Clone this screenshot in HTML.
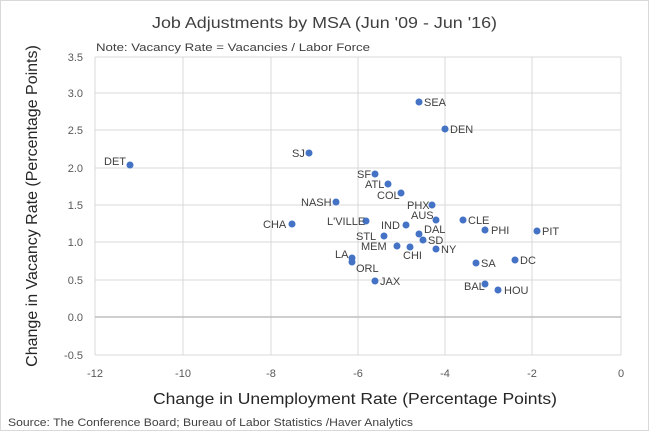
<!DOCTYPE html><html><head><style>body{margin:0;background:#fff}svg{font-family:"Liberation Sans",sans-serif}</style></head><body>
<svg width="649" height="431" viewBox="0 0 649 431">
<rect x="0.5" y="0.5" width="648" height="430" fill="#fff" stroke="#d9d9d9"/>
<g stroke="#d9d9d9" stroke-width="1">
<line x1="95" y1="57" x2="621" y2="57"/><line x1="95" y1="93" x2="621" y2="93"/><line x1="95" y1="130" x2="621" y2="130"/><line x1="95" y1="168" x2="621" y2="168"/><line x1="95" y1="205" x2="621" y2="205"/><line x1="95" y1="242" x2="621" y2="242"/><line x1="95" y1="280" x2="621" y2="280"/><line x1="95" y1="355" x2="621" y2="355"/>
<line x1="95" y1="57" x2="95" y2="355"/><line x1="183" y1="57" x2="183" y2="355"/><line x1="271" y1="57" x2="271" y2="355"/><line x1="358" y1="57" x2="358" y2="355"/><line x1="445" y1="57" x2="445" y2="355"/><line x1="532" y1="57" x2="532" y2="355"/><line x1="621" y1="57" x2="621" y2="355"/>
</g>
<line x1="95" y1="317" x2="621" y2="317" stroke="#bfbfbf" stroke-width="1.5"/>
<text x="152" y="28" font-size="16" textLength="345" lengthAdjust="spacingAndGlyphs" fill="#404040">Job Adjustments by MSA (Jun '09 - Jun '16)</text>
<text x="96" y="51" font-size="11" textLength="274" lengthAdjust="spacingAndGlyphs" fill="#404040">Note:  Vacancy Rate = Vacancies / Labor Force</text>
<g font-size="11" fill="#595959" text-anchor="end">
<text x="83" y="61">3.5</text><text x="83" y="97">3.0</text><text x="83" y="134">2.5</text><text x="83" y="172">2.0</text><text x="83" y="209">1.5</text><text x="83" y="246">1.0</text><text x="83" y="284">0.5</text><text x="83" y="321">0.0</text><text x="83" y="359">-0.5</text>
</g>
<g font-size="11" fill="#595959" text-anchor="middle">
<text x="95" y="377">-12</text><text x="183" y="377">-10</text><text x="271" y="377">-8</text><text x="358" y="377">-6</text><text x="445" y="377">-4</text><text x="532" y="377">-2</text><text x="621" y="377">0</text>
</g>
<text x="153" y="404" font-size="16" textLength="404" lengthAdjust="spacingAndGlyphs" fill="#262626">Change in Unemployment Rate (Percentage Points)</text>
<text transform="translate(37,206) rotate(-90)" font-size="16" text-anchor="middle" fill="#262626">Change in Vacancy Rate (Percentage Points)</text>
<text x="8" y="426" font-size="11" textLength="405" lengthAdjust="spacingAndGlyphs" fill="#404040">Source: The Conference Board; Bureau of Labor Statistics /Haver Analytics</text>
<g fill="#4472c4">
<circle cx="130" cy="165" r="3.5"/><circle cx="309" cy="153" r="3.5"/><circle cx="375" cy="174" r="3.5"/><circle cx="336" cy="202" r="3.5"/><circle cx="292" cy="224" r="3.5"/><circle cx="366" cy="221" r="3.5"/><circle cx="384" cy="236" r="3.5"/><circle cx="388" cy="184" r="3.5"/><circle cx="401" cy="193" r="3.5"/><circle cx="419" cy="102" r="3.5"/><circle cx="445" cy="129" r="3.5"/><circle cx="432" cy="205" r="3.5"/><circle cx="436" cy="220" r="3.5"/><circle cx="463" cy="220" r="3.5"/><circle cx="485" cy="230" r="3.5"/><circle cx="537" cy="231" r="3.5"/><circle cx="406" cy="225" r="3.5"/><circle cx="419" cy="234" r="3.5"/><circle cx="423" cy="240" r="3.5"/><circle cx="397" cy="246" r="3.5"/><circle cx="410" cy="247" r="3.5"/><circle cx="436" cy="249" r="3.5"/><circle cx="352" cy="258" r="3.5"/><circle cx="352" cy="262" r="3.5"/><circle cx="375" cy="281" r="3.5"/><circle cx="476" cy="263" r="3.5"/><circle cx="515" cy="260" r="3.5"/><circle cx="485" cy="284" r="3.5"/><circle cx="498" cy="290" r="3.5"/>
</g>
<g font-size="11" fill="#404040">
<text x="104" y="165">DET</text><text x="292" y="157">SJ</text><text x="357" y="178">SF</text><text x="301" y="206">NASH</text><text x="263" y="228">CHA</text><text x="327" y="225">L'VILLE</text><text x="356" y="240">STL</text><text x="365" y="188">ATL</text><text x="377" y="199">COL</text><text x="424" y="106">SEA</text><text x="450" y="133">DEN</text><text x="407" y="209">PHX</text><text x="411" y="219">AUS</text><text x="468" y="224">CLE</text><text x="491" y="234">PHI</text><text x="542" y="235">PIT</text><text x="381" y="229">IND</text><text x="424" y="233">DAL</text><text x="428" y="244">SD</text><text x="361" y="250">MEM</text><text x="403" y="259">CHI</text><text x="441" y="253">NY</text><text x="335" y="258">LA</text><text x="356" y="272">ORL</text><text x="380" y="285">JAX</text><text x="481" y="267">SA</text><text x="520" y="264">DC</text><text x="464" y="290">BAL</text><text x="504" y="294">HOU</text>
</g>
</svg></body></html>
